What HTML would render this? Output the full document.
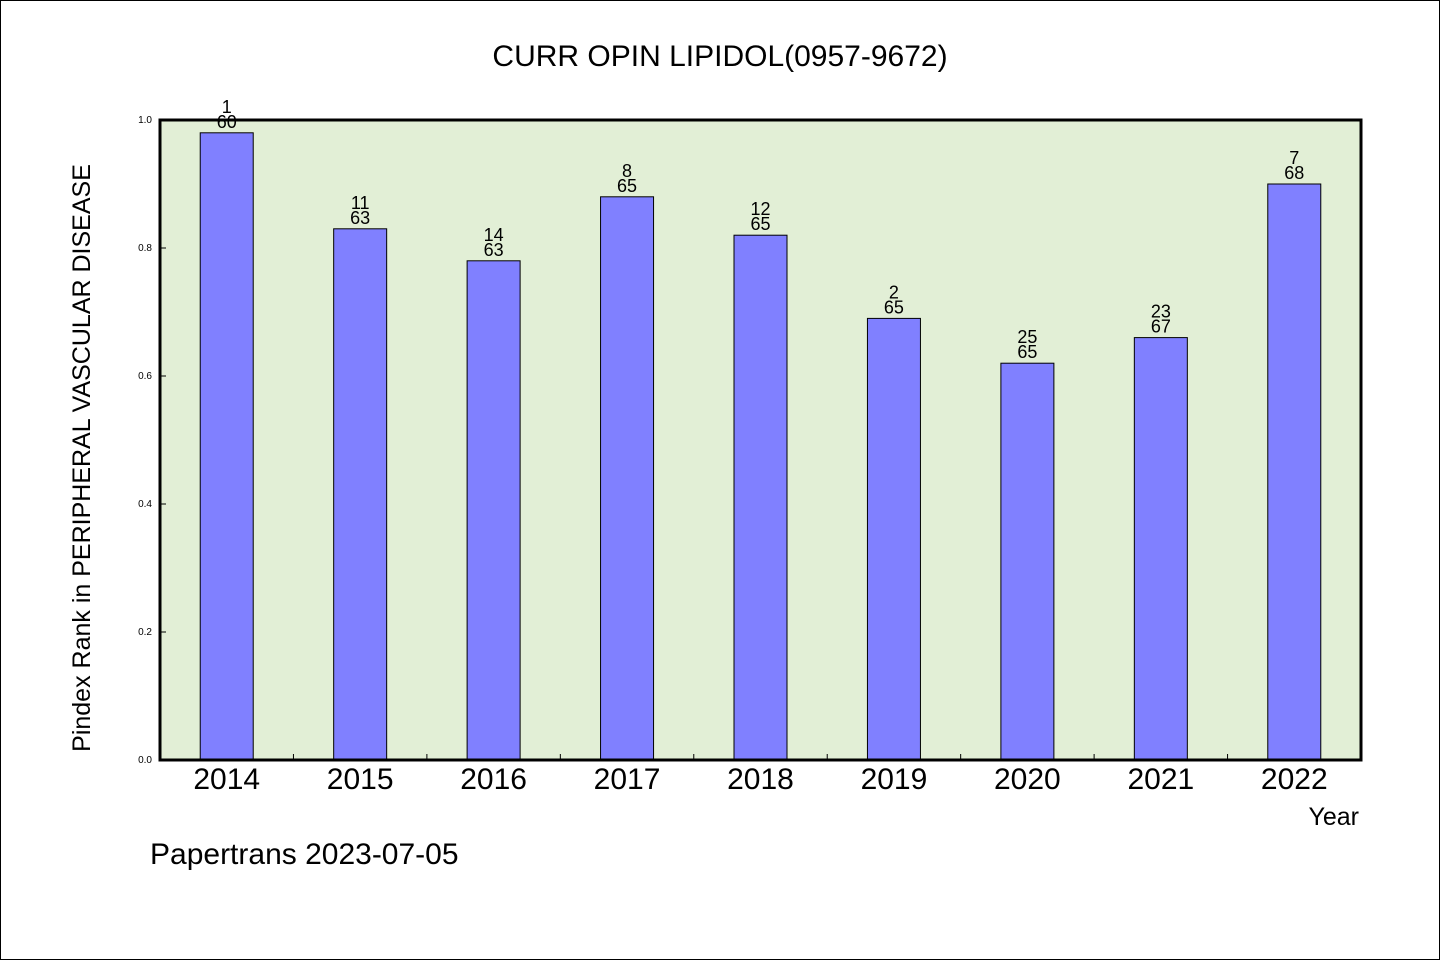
<!DOCTYPE html>
<html><head><meta charset="utf-8"><style>
html,body{margin:0;padding:0;background:#fff}
svg{display:block}
text{font-family:"WenQuanYi Zen Hei","Liberation Sans",sans-serif;fill:#000}
</style></head><body>
<svg id="chart" width="1440" height="960" viewBox="0 0 1440 960">
<rect x="0.5" y="0.5" width="1439" height="959" fill="#fff" stroke="#000"/>
<text x="720" y="66" font-size="30" text-anchor="middle">CURR OPIN LIPIDOL(0957-9672)</text>
<rect x="160" y="120" width="1201" height="640" fill="#e2efd6"/>
<g id="bars"></g>
<g id="axes"></g>
<rect x="160" y="120" width="1201" height="640" fill="none" stroke="#000" stroke-width="3"/>
<text transform="translate(90,458) rotate(-90)" font-size="25" text-anchor="middle">Pindex Rank in PERIPHERAL VASCULAR DISEASE</text>
<text x="1359" y="825" font-size="25" text-anchor="end">Year</text>
<text x="150" y="864" font-size="30">Papertrans 2023-07-05</text>
</svg>
<script>
const categories=["2014","2015","2016","2017","2018","2019","2020","2021","2022"];
const values=[0.98,0.83,0.78,0.88,0.82,0.69,0.62,0.66,0.90];
const ranks=["1","11","14","8","12","2","25","23","7"];
const totals=["60","63","63","65","65","65","65","67","68"];
const yTicks=[0,0.2,0.4,0.6,0.8,1.0];
const NS="http://www.w3.org/2000/svg";
const X0=160,X1=1361,Y0=760,Y1=120;
const bw=(X1-X0)/categories.length;
const xc=i=>X0+bw*(i+0.5);
const y=v=>Y0-(Y0-Y1)*v;
function mk(tag,attrs,parent,txt){const e=document.createElementNS(NS,tag);for(const k in attrs)e.setAttribute(k,attrs[k]);if(txt!==undefined)e.textContent=txt;parent.appendChild(e);return e;}
const gb=document.getElementById('bars'),ga=document.getElementById('axes');
categories.forEach((c,i)=>{
  const r=mk('rect',{x:xc(i)-26.5,y:y(values[i]),width:53,height:Y0-y(values[i]),fill:'#8080ff',stroke:'#000','stroke-width':1},gb);
  
  
  const t1=mk('text',{x:xc(i),y:y(values[i])-20,'font-size':18,'text-anchor':'middle'},gb,ranks[i]);
  
  
  const t2=mk('text',{x:xc(i),y:y(values[i])-5,'font-size':18,'text-anchor':'middle'},gb,totals[i]);
  
  
  const xl=mk('text',{x:xc(i),y:789,'font-size':30,'text-anchor':'middle'},ga,c);
  
  
  if(i<categories.length-1){
    const tk=mk('line',{x1:X0+bw*(i+1),x2:X0+bw*(i+1),y1:Y0,y2:Y0-6,stroke:'#000','stroke-width':1},ga);
    
    
  }
});
yTicks.forEach(v=>{
  const tk=mk('line',{x1:X0,x2:X0+6,y1:y(v),y2:y(v),stroke:'#000','stroke-width':1},ga);
  
  
  const tl=mk('text',{x:152,y:y(v)+3,'font-size':10,'text-anchor':'end'},ga,v.toFixed(1));
  
  
});
</script>
</body></html>
